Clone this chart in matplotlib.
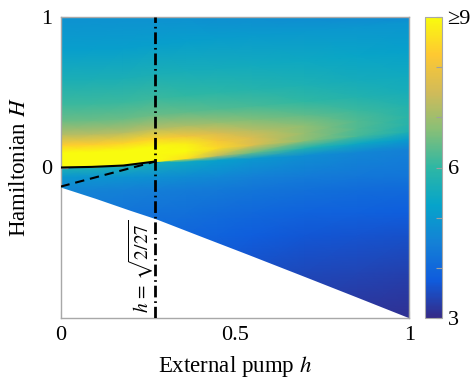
import numpy as np
import matplotlib.pyplot as plt
from matplotlib.colors import LinearSegmentedColormap

plt.rcParams['font.family'] = ['Liberation Serif', 'DejaVu Serif']
plt.rcParams['mathtext.fontset'] = 'stix'

# parula-like colormap
parula = LinearSegmentedColormap.from_list('parula', [
    '#352a87', '#0f5cdd', '#1481d6', '#06a4ca', '#2eb7a4',
    '#87bf77', '#d1bb59', '#fec832', '#f9fb0e'])

# sample columns (external pump h)
h_cols = [0, 0.09, 0.18, 0.27, 0.36, 0.45, 0.55, 0.7, 0.85, 1.0]
# lower edge of the bright band and the width of the jump below it
band_edge = [0, 0.004, 0.013, 0.04, 0.06, 0.08, 0.1, 0.13, 0.16, 0.19]
band_gap = [0.003, 0.003, 0.003, 0.003, 0.02, 0.03, 0.04, 0.05, 0.06, 0.07]
# H rows: fixed ones below the band, offsets above the band edge
low_rows = [-1.0, -0.7, -0.45, -0.3, -0.15, -0.06]
band_offsets = [0.05, 0.1, 0.15, 0.22, 0.31, 0.42, 0.58, 0.78]

# colour values, one row per H level (bottom to top), one entry per column
vals = [
    [3.6, 3.55, 3.5, 3.45, 3.4, 3.35, 3.3, 3.22, 3.15, 3.1],
    [3.9, 3.85, 3.8, 3.75, 3.7, 3.65, 3.55, 3.45, 3.4, 3.35],
    [4.15, 4.1, 4.05, 4.0, 3.95, 3.9, 3.8, 3.7, 3.65, 3.6],
    [4.35, 4.3, 4.25, 4.2, 4.15, 4.1, 4.0, 3.9, 3.85, 3.8],
    [4.6, 4.55, 4.5, 4.45, 4.4, 4.35, 4.25, 4.15, 4.1, 4.05],
    [5.0, 4.95, 4.9, 4.85, 4.75, 4.65, 4.5, 4.4, 4.3, 4.25],
    [5.7, 5.7, 5.65, 5.6, 5.4, 5.2, 5.0, 4.8, 4.6, 4.5],
    [9.5, 9.5, 9.5, 9.5, 8.6, 7.3, 6.5, 5.8, 5.4, 5.1],
    [9.6, 9.6, 9.6, 9.6, 9.4, 8.5, 7.7, 6.8, 6.2, 5.7],
    [9.4, 9.4, 9.4, 9.4, 8.8, 8.1, 7.6, 6.9, 6.3, 5.85],
    [8.3, 8.3, 8.4, 8.4, 8.0, 7.6, 7.2, 6.8, 6.3, 5.9],
    [7.2, 7.2, 7.2, 7.2, 7.1, 6.9, 6.7, 6.4, 6.1, 5.8],
    [6.5, 6.5, 6.5, 6.5, 6.4, 6.3, 6.2, 6.0, 5.8, 5.6],
    [6.1, 6.1, 6.1, 6.1, 6.0, 5.95, 5.85, 5.7, 5.55, 5.45],
    [5.65, 5.65, 5.65, 5.65, 5.6, 5.55, 5.5, 5.4, 5.3, 5.2],
    [5.15, 5.15, 5.15, 5.15, 5.15, 5.1, 5.05, 5.0, 4.95, 4.9],
    [4.85, 4.85, 4.85, 4.85, 4.85, 4.8, 4.8, 4.75, 4.7, 4.65],
]

# lower boundary of the allowed region
bound_h = [0, 0.1, 0.2, 0.272, 0.4, 0.54, 0.7, 0.85, 1.0]
bound_H = [-0.13, -0.205, -0.285, -0.34, -0.455, -0.58, -0.725, -0.862, -1.0]

# solid and dashed branches
solid_h = [0, 0.09, 0.18, 0.2722]
solid_H = [0, 0.004, 0.013, 0.04]
dash_h = [0, 0.2722]
dash_H = [-0.127, 0.04]

h_crit = np.sqrt(2 / 27)

# build the mesh
edge = np.array(band_edge)
rows = [np.full(len(h_cols), v) for v in low_rows]
rows.append(edge - np.array(band_gap))
rows.append(edge)
for off in band_offsets:
    rows.append(edge + off)
rows.append(np.full(len(h_cols), 1.0))
Y = np.array(rows)
X = np.tile(h_cols, (Y.shape[0], 1))
Z = np.array(vals)

fig = plt.figure(figsize=(4.71, 3.83), dpi=100)
ax = fig.add_axes([60.5 / 471, 65 / 383, 349 / 471, 301 / 383])

mesh = ax.pcolormesh(X, Y, Z, shading='gouraud', cmap=parula, vmin=3, vmax=9, zorder=1)
ax.fill_between(bound_h, bound_H, -1.01, color='white', lw=0, zorder=2)

ax.plot(solid_h, solid_H, color='black', lw=1.5, zorder=3)
ax.plot(dash_h, dash_H, color='black', lw=1.5, linestyle=(0, (4.5, 2.8)), zorder=3)
ax.plot([h_crit, h_crit], [-1, 1], color='black', lw=2.0,
        linestyle=(0, (4.2, 1.4, 0.6, 1.4)), zorder=4)

ax.text(0.232, -0.66, r'$h\,=\,\sqrt{2/27}$', rotation=90, ha='center', va='center', fontsize=14)

ax.set_xlim(0, 1)
ax.set_ylim(-1, 1)
ax.set_xticks([0, 0.5, 1])
ax.set_xticklabels(['0', '0.5', '1'])
ax.set_yticks([-0.5, 0, 1])
ax.set_yticklabels(['', '0', '1'])
ax.tick_params(direction='in', length=5, color='#a0a0a0', labelsize=16, pad=6)
for s in ax.spines.values():
    s.set_color('#a8a8a8')
    s.set_linewidth(1)

ax.set_xlabel('External pump $h$', fontsize=16.5, labelpad=6)
ax.set_ylabel('Hamiltonian $H$', fontsize=16.5, labelpad=8)

cax = fig.add_axes([425 / 471, 65 / 383, 17 / 471, 301 / 383])
cb = fig.colorbar(mesh, cax=cax, ticks=[3, 4, 5, 6, 7, 8, 9])
cb.set_ticklabels(['3', '', '', '6', '', '', '≥9'])
cb.outline.set_edgecolor('#a8a8a8')
cax.tick_params(direction='in', length=4, color='#a0a0a0', labelsize=16, pad=4)

fig.savefig('out.png', dpi=100)
